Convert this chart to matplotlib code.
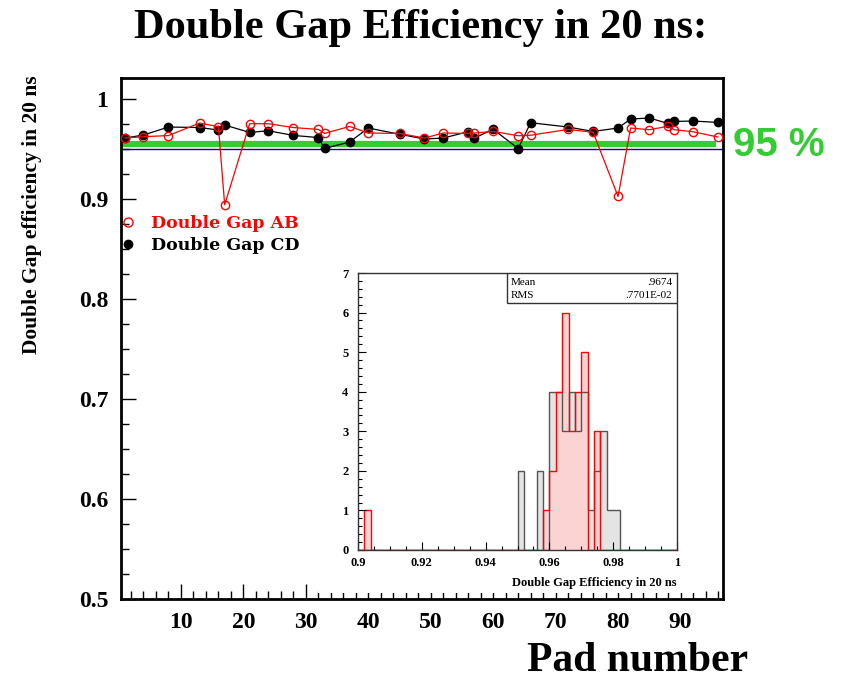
import numpy as np
import matplotlib.pyplot as plt
from matplotlib.lines import Line2D
from matplotlib.patches import Rectangle
from matplotlib.ticker import MultipleLocator

# pad numbers and double gap efficiencies
pads = [1, 4, 8, 13, 16, 17, 21, 24, 28, 32, 33, 37, 40, 45, 49,
        52, 56, 57, 60, 64, 66, 72, 76, 80, 82, 85, 88, 89, 92, 96]
eff_ab = [0.961, 0.9623, 0.9635, 0.976, 0.9723, 0.8943, 0.9753, 0.9753, 0.9715, 0.9696,
          0.9656, 0.9726, 0.966, 0.9656, 0.961, 0.966, 0.9656, 0.966, 0.9676, 0.9633,
          0.9638, 0.9696, 0.9668, 0.9026, 0.971, 0.9693, 0.9728, 0.9693, 0.9673, 0.962]
eff_cd = [0.961, 0.964, 0.972, 0.9715, 0.969, 0.974, 0.9666, 0.9683, 0.9636, 0.9615,
          0.9506, 0.957, 0.971, 0.9648, 0.960, 0.961, 0.9673, 0.961, 0.9698, 0.9505,
          0.9763, 0.972, 0.9676, 0.971, 0.980, 0.981, 0.9756, 0.9776, 0.978, 0.9766]

# inset histogram: lower bin edges and counts (bin width 0.002)
ab_bin_lo = [0.902, 0.958, 0.960, 0.962, 0.964, 0.966, 0.968, 0.970, 0.974]
ab_counts = [1, 1, 2, 4, 6, 3, 4, 5, 3]
cd_bin_lo = [0.950, 0.956, 0.960, 0.962, 0.964, 0.966, 0.968, 0.970, 0.972,
             0.974, 0.976, 0.978, 0.980]
cd_counts = [2, 2, 4, 4, 3, 4, 3, 4, 1, 2, 3, 1, 1]
hist_mean = '.9674'
hist_rms = '.7701E-02'

serif = 'Liberation Serif'
green = '#33cc33'

fig = plt.figure(figsize=(8.41, 6.80), dpi=100)
W, H = 841, 680


def px(x0, y0, x1, y1):
    # pixel box -> figure fraction rect
    return [x0 / W, 1 - y1 / H, (x1 - x0) / W, (y1 - y0) / H]


ax = fig.add_axes(px(121, 78, 723, 599.3))
ax.plot(pads, eff_cd, color='black', lw=0.9, marker='o', ms=6,
        mfc='black', mec='black', zorder=3)
ax.plot(pads, eff_ab, color='red', lw=0.9, marker='o', ms=6,
        mfc='none', mec='red', mew=1.0, zorder=4)
ax.axhline(0.95, color='#0000aa', lw=1.0, zorder=2)
ax.plot([0.4, 95.7], [0.955, 0.955], color=green, lw=4.5,
        solid_capstyle='butt', zorder=2.5)

ax.set_xlim(0.4, 96.8)
ax.set_ylim(0.5, 1.021)
ax.xaxis.set_major_locator(MultipleLocator(10))
ax.xaxis.set_minor_locator(MultipleLocator(2))
ax.yaxis.set_major_locator(MultipleLocator(0.1))
ax.yaxis.set_minor_locator(MultipleLocator(0.025))
ax.set_yticks([0.5, 0.6, 0.7, 0.8, 0.9, 1.0])
ax.set_yticklabels(['0.5', '0.6', '0.7', '0.8', '0.9', '1'])
ax.tick_params(which='both', direction='in', top=False, right=False, width=1)
ax.tick_params(which='major', length=11)
ax.tick_params(which='minor', length=6)
ax.tick_params(axis='x', pad=9)
ax.tick_params(axis='y', pad=9)
for lab in ax.get_xticklabels() + ax.get_yticklabels():
    lab.set_fontfamily(serif)
    lab.set_fontweight('bold')
    lab.set_fontsize(17)
for s in ax.spines.values():
    s.set_linewidth(2)

handles = [Line2D([], [], ls='none', marker='o', ms=6.5, mfc='none', mec='red'),
           Line2D([], [], ls='none', marker='o', ms=6, mfc='black', mec='black')]
ax.legend(handles, ['Double Gap AB', 'Double Gap CD'], loc='upper left',
          bbox_to_anchor=(-0.003, 0.738), frameon=False, borderpad=0,
          borderaxespad=0, handlelength=1.0, handletextpad=0.85,
          labelspacing=0.3, labelcolor=['red', 'black'],
          prop={'family': 'DejaVu Serif', 'weight': 'bold', 'size': 12.5})

# white inset pad covering part of the main axis
fig.patches.append(Rectangle((318 / W, 1 - 593 / H), 385 / W, 330 / H,
                             transform=fig.transFigure, facecolor='white',
                             edgecolor='none', zorder=1))

# inset histogram
ins = fig.add_axes(px(358, 273, 677, 550))
ins.set_zorder(2)
edges = np.round(np.arange(0.9, 1.0 + 1e-9, 0.002), 3)
ab_h = np.zeros(len(edges) - 1)
cd_h = np.zeros(len(edges) - 1)
for lo, c in zip(ab_bin_lo, ab_counts):
    ab_h[int(round((lo - 0.9) / 0.002))] = c
for lo, c in zip(cd_bin_lo, cd_counts):
    cd_h[int(round((lo - 0.9) / 0.002))] = c
ins.stairs(cd_h, edges, fill=True, color='#e4e4e4')
ins.stairs(ab_h, edges, fill=True, color='#fbd3d3')
ins.stairs(cd_h, edges, color='#555555', lw=1)
ins.stairs(ab_h, edges, color='red', lw=1)
ins.set_xlim(0.9, 1.0)
ins.set_ylim(0, 7)
ins.xaxis.set_major_locator(MultipleLocator(0.02))
ins.xaxis.set_minor_locator(MultipleLocator(0.005))
ins.yaxis.set_major_locator(MultipleLocator(1))
ins.yaxis.set_minor_locator(MultipleLocator(0.2))
ins.set_xticks([0.9, 0.92, 0.94, 0.96, 0.98, 1.0])
ins.set_xticklabels(['0.9', '0.92', '0.94', '0.96', '0.98', '1'])
ins.tick_params(which='both', direction='in', top=False, right=False, width=0.8)
ins.tick_params(which='major', length=6)
ins.tick_params(which='minor', length=3)
ins.tick_params(axis='x', pad=5)
ins.tick_params(axis='y', pad=7)
for lab in ins.get_xticklabels() + ins.get_yticklabels():
    lab.set_fontfamily(serif)
    lab.set_fontweight('bold')
    lab.set_fontsize(9)
for s in ins.spines.values():
    s.set_linewidth(1)
    s.set_color('#333333')
ins.set_xlabel('Double Gap Efficiency in 20 ns', fontfamily=serif,
               fontweight='bold', fontsize=9, loc='right', labelpad=6)

ins.add_patch(Rectangle((0.466, 0.8906), 0.534, 0.1094, transform=ins.transAxes,
                        facecolor='white', edgecolor='#333333', lw=1, zorder=5))
ins.text(0.48, 0.967, 'Mean', transform=ins.transAxes, fontfamily=serif,
         fontsize=8, va='center', zorder=6)
ins.text(0.985, 0.967, hist_mean, transform=ins.transAxes, fontfamily=serif,
         fontsize=8, va='center', ha='right', zorder=6)
ins.text(0.48, 0.917, 'RMS', transform=ins.transAxes, fontfamily=serif,
         fontsize=8, va='center', zorder=6)
ins.text(0.985, 0.917, hist_rms, transform=ins.transAxes, fontfamily=serif,
         fontsize=8, va='center', ha='right', zorder=6)

# titles and labels
fig.text(421 / W, 1 - 28 / H, 'Double Gap Efficiency in 20 ns:', ha='center',
         va='center', fontfamily=serif, fontweight='bold', fontsize=30.5)
fig.text(638 / W, 1 - 661 / H, 'Pad number', ha='center', va='center',
         fontfamily=serif, fontweight='bold', fontsize=30)
fig.text(32 / W, 1 - 215 / H, 'Double Gap efficiency in 20 ns', rotation=90,
         ha='center', va='center', fontfamily=serif, fontweight='bold', fontsize=15.5)
fig.text(733 / W, 1 - 145 / H, '95 %', ha='left', va='center',
         fontfamily='Liberation Sans', fontweight='bold', fontsize=29, color=green)

fig.savefig('out.png', dpi=100)
